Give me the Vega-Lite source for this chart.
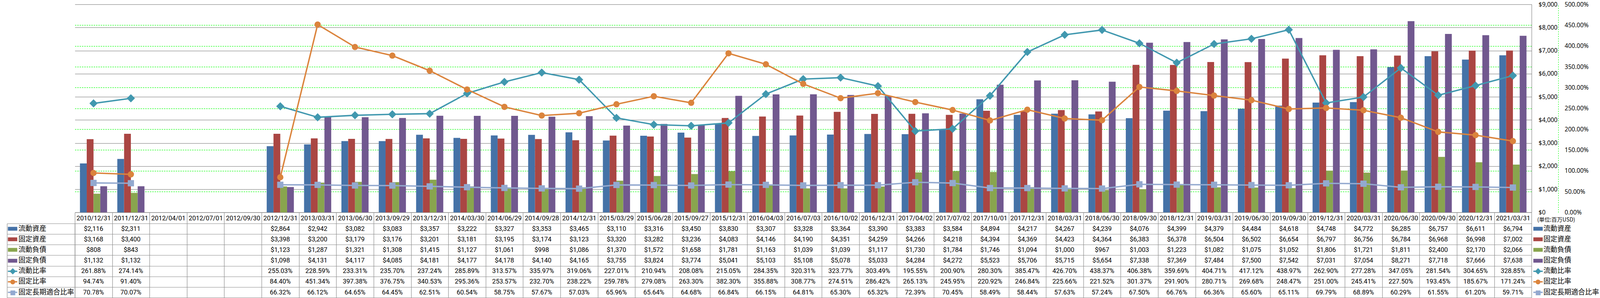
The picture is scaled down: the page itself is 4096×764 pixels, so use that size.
{
"$schema":"https://vega.github.io/schema/vega-lite/v6.json",
"autosize":{"type":"pad"},
"padding":{"left":14.6,"top":4.1,"right":0,"bottom":0},
"background":"white",
"bounds":"flush",
"spacing":27.9,
"config":{"view":{"stroke":null}},
"data":{"values":[
{"d":"2010/12/31","s":"流動資産","v":2116},{"d":"2010/12/31","s":"固定資産","v":3168},{"d":"2010/12/31","s":"流動負債","v":808},{"d":"2010/12/31","s":"固定負債","v":1132},{"d":"2010/12/31","s":"流動比率","v":2.6188},{"d":"2010/12/31","s":"固定比率","v":0.9474},{"d":"2010/12/31","s":"固定長期適合比率","v":0.7078},
{"d":"2011/12/31","s":"流動資産","v":2311},{"d":"2011/12/31","s":"固定資産","v":3400},{"d":"2011/12/31","s":"流動負債","v":843},{"d":"2011/12/31","s":"固定負債","v":1132},{"d":"2011/12/31","s":"流動比率","v":2.7414},{"d":"2011/12/31","s":"固定比率","v":0.914},{"d":"2011/12/31","s":"固定長期適合比率","v":0.7007},
{"d":"2012/04/01","s":"流動比率","v":null},{"d":"2012/04/01","s":"固定比率","v":null},{"d":"2012/04/01","s":"固定長期適合比率","v":null},
{"d":"2012/07/01","s":"流動比率","v":null},{"d":"2012/07/01","s":"固定比率","v":null},{"d":"2012/07/01","s":"固定長期適合比率","v":null},
{"d":"2012/09/30","s":"流動比率","v":null},{"d":"2012/09/30","s":"固定比率","v":null},{"d":"2012/09/30","s":"固定長期適合比率","v":null},
{"d":"2012/12/31","s":"流動資産","v":2864},{"d":"2012/12/31","s":"固定資産","v":3398},{"d":"2012/12/31","s":"流動負債","v":1123},{"d":"2012/12/31","s":"固定負債","v":1098},{"d":"2012/12/31","s":"流動比率","v":2.5503},{"d":"2012/12/31","s":"固定比率","v":0.844},{"d":"2012/12/31","s":"固定長期適合比率","v":0.6632},
{"d":"2013/03/31","s":"流動資産","v":2942},{"d":"2013/03/31","s":"固定資産","v":3200},{"d":"2013/03/31","s":"流動負債","v":1287},{"d":"2013/03/31","s":"固定負債","v":4131},{"d":"2013/03/31","s":"流動比率","v":2.2859},{"d":"2013/03/31","s":"固定比率","v":4.5134},{"d":"2013/03/31","s":"固定長期適合比率","v":0.6612},
{"d":"2013/06/30","s":"流動資産","v":3082},{"d":"2013/06/30","s":"固定資産","v":3179},{"d":"2013/06/30","s":"流動負債","v":1321},{"d":"2013/06/30","s":"固定負債","v":4117},{"d":"2013/06/30","s":"流動比率","v":2.3331},{"d":"2013/06/30","s":"固定比率","v":3.9738},{"d":"2013/06/30","s":"固定長期適合比率","v":0.6465},
{"d":"2013/09/29","s":"流動資産","v":3083},{"d":"2013/09/29","s":"固定資産","v":3176},{"d":"2013/09/29","s":"流動負債","v":1308},{"d":"2013/09/29","s":"固定負債","v":4085},{"d":"2013/09/29","s":"流動比率","v":2.357},{"d":"2013/09/29","s":"固定比率","v":3.7675},{"d":"2013/09/29","s":"固定長期適合比率","v":0.6445},
{"d":"2013/12/31","s":"流動資産","v":3357},{"d":"2013/12/31","s":"固定資産","v":3201},{"d":"2013/12/31","s":"流動負債","v":1415},{"d":"2013/12/31","s":"固定負債","v":4181},{"d":"2013/12/31","s":"流動比率","v":2.3724},{"d":"2013/12/31","s":"固定比率","v":3.4053},{"d":"2013/12/31","s":"固定長期適合比率","v":0.6251},
{"d":"2014/03/30","s":"流動資産","v":3222},{"d":"2014/03/30","s":"固定資産","v":3181},{"d":"2014/03/30","s":"流動負債","v":1127},{"d":"2014/03/30","s":"固定負債","v":4177},{"d":"2014/03/30","s":"流動比率","v":2.8589},{"d":"2014/03/30","s":"固定比率","v":2.9536},{"d":"2014/03/30","s":"固定長期適合比率","v":0.6054},
{"d":"2014/06/29","s":"流動資産","v":3327},{"d":"2014/06/29","s":"固定資産","v":3195},{"d":"2014/06/29","s":"流動負債","v":1061},{"d":"2014/06/29","s":"固定負債","v":4178},{"d":"2014/06/29","s":"流動比率","v":3.1357},{"d":"2014/06/29","s":"固定比率","v":2.5357},{"d":"2014/06/29","s":"固定長期適合比率","v":0.5875},
{"d":"2014/09/28","s":"流動資産","v":3353},{"d":"2014/09/28","s":"固定資産","v":3174},{"d":"2014/09/28","s":"流動負債","v":998},{"d":"2014/09/28","s":"固定負債","v":4140},{"d":"2014/09/28","s":"流動比率","v":3.3597},{"d":"2014/09/28","s":"固定比率","v":2.327},{"d":"2014/09/28","s":"固定長期適合比率","v":0.5767},
{"d":"2014/12/31","s":"流動資産","v":3465},{"d":"2014/12/31","s":"固定資産","v":3123},{"d":"2014/12/31","s":"流動負債","v":1086},{"d":"2014/12/31","s":"固定負債","v":4165},{"d":"2014/12/31","s":"流動比率","v":3.1906},{"d":"2014/12/31","s":"固定比率","v":2.3822},{"d":"2014/12/31","s":"固定長期適合比率","v":0.5703},
{"d":"2015/03/29","s":"流動資産","v":3110},{"d":"2015/03/29","s":"固定資産","v":3320},{"d":"2015/03/29","s":"流動負債","v":1370},{"d":"2015/03/29","s":"固定負債","v":3755},{"d":"2015/03/29","s":"流動比率","v":2.2701},{"d":"2015/03/29","s":"固定比率","v":2.5978},{"d":"2015/03/29","s":"固定長期適合比率","v":0.6596},
{"d":"2015/06/28","s":"流動資産","v":3316},{"d":"2015/06/28","s":"固定資産","v":3282},{"d":"2015/06/28","s":"流動負債","v":1572},{"d":"2015/06/28","s":"固定負債","v":3824},{"d":"2015/06/28","s":"流動比率","v":2.1094},{"d":"2015/06/28","s":"固定比率","v":2.7908},{"d":"2015/06/28","s":"固定長期適合比率","v":0.6564},
{"d":"2015/09/27","s":"流動資産","v":3450},{"d":"2015/09/27","s":"固定資産","v":3236},{"d":"2015/09/27","s":"流動負債","v":1658},{"d":"2015/09/27","s":"固定負債","v":3774},{"d":"2015/09/27","s":"流動比率","v":2.0808},{"d":"2015/09/27","s":"固定比率","v":2.633},{"d":"2015/09/27","s":"固定長期適合比率","v":0.6468},
{"d":"2015/12/31","s":"流動資産","v":3830},{"d":"2015/12/31","s":"固定資産","v":4083},{"d":"2015/12/31","s":"流動負債","v":1781},{"d":"2015/12/31","s":"固定負債","v":5041},{"d":"2015/12/31","s":"流動比率","v":2.1505},{"d":"2015/12/31","s":"固定比率","v":3.823},{"d":"2015/12/31","s":"固定長期適合比率","v":0.6684},
{"d":"2016/04/03","s":"流動資産","v":3307},{"d":"2016/04/03","s":"固定資産","v":4146},{"d":"2016/04/03","s":"流動負債","v":1163},{"d":"2016/04/03","s":"固定負債","v":5103},{"d":"2016/04/03","s":"流動比率","v":2.8435},{"d":"2016/04/03","s":"固定比率","v":3.5588},{"d":"2016/04/03","s":"固定長期適合比率","v":0.6615},
{"d":"2016/07/03","s":"流動資産","v":3328},{"d":"2016/07/03","s":"固定資産","v":4190},{"d":"2016/07/03","s":"流動負債","v":1039},{"d":"2016/07/03","s":"固定負債","v":5108},{"d":"2016/07/03","s":"流動比率","v":3.2031},{"d":"2016/07/03","s":"固定比率","v":3.0877},{"d":"2016/07/03","s":"固定長期適合比率","v":0.6481},
{"d":"2016/10/02","s":"流動資産","v":3364},{"d":"2016/10/02","s":"固定資産","v":4351},{"d":"2016/10/02","s":"流動負債","v":1039},{"d":"2016/10/02","s":"固定負債","v":5078},{"d":"2016/10/02","s":"流動比率","v":3.2377},{"d":"2016/10/02","s":"固定比率","v":2.7451},{"d":"2016/10/02","s":"固定長期適合比率","v":0.653},
{"d":"2016/12/31","s":"流動資産","v":3390},{"d":"2016/12/31","s":"固定資産","v":4259},{"d":"2016/12/31","s":"流動負債","v":1117},{"d":"2016/12/31","s":"固定負債","v":5033},{"d":"2016/12/31","s":"流動比率","v":3.0349},{"d":"2016/12/31","s":"固定比率","v":2.8642},{"d":"2016/12/31","s":"固定長期適合比率","v":0.6532},
{"d":"2017/04/02","s":"流動資産","v":3383},{"d":"2017/04/02","s":"固定資産","v":4266},{"d":"2017/04/02","s":"流動負債","v":1730},{"d":"2017/04/02","s":"固定負債","v":4284},{"d":"2017/04/02","s":"流動比率","v":1.9555},{"d":"2017/04/02","s":"固定比率","v":2.6513},{"d":"2017/04/02","s":"固定長期適合比率","v":0.7239},
{"d":"2017/07/02","s":"流動資産","v":3584},{"d":"2017/07/02","s":"固定資産","v":4218},{"d":"2017/07/02","s":"流動負債","v":1784},{"d":"2017/07/02","s":"固定負債","v":4272},{"d":"2017/07/02","s":"流動比率","v":2.009},{"d":"2017/07/02","s":"固定比率","v":2.4595},{"d":"2017/07/02","s":"固定長期適合比率","v":0.7045},
{"d":"2017/10/01","s":"流動資産","v":4894},{"d":"2017/10/01","s":"固定資産","v":4394},{"d":"2017/10/01","s":"流動負債","v":1746},{"d":"2017/10/01","s":"固定負債","v":5523},{"d":"2017/10/01","s":"流動比率","v":2.803},{"d":"2017/10/01","s":"固定比率","v":2.2092},{"d":"2017/10/01","s":"固定長期適合比率","v":0.5849},
{"d":"2017/12/31","s":"流動資産","v":4217},{"d":"2017/12/31","s":"固定資産","v":4369},{"d":"2017/12/31","s":"流動負債","v":1094},{"d":"2017/12/31","s":"固定負債","v":5706},{"d":"2017/12/31","s":"流動比率","v":3.8547},{"d":"2017/12/31","s":"固定比率","v":2.4684},{"d":"2017/12/31","s":"固定長期適合比率","v":0.5844},
{"d":"2018/03/31","s":"流動資産","v":4267},{"d":"2018/03/31","s":"固定資産","v":4423},{"d":"2018/03/31","s":"流動負債","v":1000},{"d":"2018/03/31","s":"固定負債","v":5715},{"d":"2018/03/31","s":"流動比率","v":4.267},{"d":"2018/03/31","s":"固定比率","v":2.2566},{"d":"2018/03/31","s":"固定長期適合比率","v":0.5763},
{"d":"2018/06/30","s":"流動資産","v":4239},{"d":"2018/06/30","s":"固定資産","v":4364},{"d":"2018/06/30","s":"流動負債","v":967},{"d":"2018/06/30","s":"固定負債","v":5654},{"d":"2018/06/30","s":"流動比率","v":4.3837},{"d":"2018/06/30","s":"固定比率","v":2.2152},{"d":"2018/06/30","s":"固定長期適合比率","v":0.5724},
{"d":"2018/09/30","s":"流動資産","v":4076},{"d":"2018/09/30","s":"固定資産","v":6383},{"d":"2018/09/30","s":"流動負債","v":1003},{"d":"2018/09/30","s":"固定負債","v":7338},{"d":"2018/09/30","s":"流動比率","v":4.0638},{"d":"2018/09/30","s":"固定比率","v":3.0137},{"d":"2018/09/30","s":"固定長期適合比率","v":0.675},
{"d":"2018/12/31","s":"流動資産","v":4399},{"d":"2018/12/31","s":"固定資産","v":6378},{"d":"2018/12/31","s":"流動負債","v":1223},{"d":"2018/12/31","s":"固定負債","v":7369},{"d":"2018/12/31","s":"流動比率","v":3.5969},{"d":"2018/12/31","s":"固定比率","v":2.919},{"d":"2018/12/31","s":"固定長期適合比率","v":0.6676},
{"d":"2019/03/31","s":"流動資産","v":4379},{"d":"2019/03/31","s":"固定資産","v":6504},{"d":"2019/03/31","s":"流動負債","v":1082},{"d":"2019/03/31","s":"固定負債","v":7484},{"d":"2019/03/31","s":"流動比率","v":4.0471},{"d":"2019/03/31","s":"固定比率","v":2.8071},{"d":"2019/03/31","s":"固定長期適合比率","v":0.6636},
{"d":"2019/06/30","s":"流動資産","v":4484},{"d":"2019/06/30","s":"固定資産","v":6502},{"d":"2019/06/30","s":"流動負債","v":1075},{"d":"2019/06/30","s":"固定負債","v":7500},{"d":"2019/06/30","s":"流動比率","v":4.1712},{"d":"2019/06/30","s":"固定比率","v":2.6968},{"d":"2019/06/30","s":"固定長期適合比率","v":0.656},
{"d":"2019/09/30","s":"流動資産","v":4618},{"d":"2019/09/30","s":"固定資産","v":6654},{"d":"2019/09/30","s":"流動負債","v":1052},{"d":"2019/09/30","s":"固定負債","v":7542},{"d":"2019/09/30","s":"流動比率","v":4.3897},{"d":"2019/09/30","s":"固定比率","v":2.4847},{"d":"2019/09/30","s":"固定長期適合比率","v":0.6511},
{"d":"2019/12/31","s":"流動資産","v":4748},{"d":"2019/12/31","s":"固定資産","v":6797},{"d":"2019/12/31","s":"流動負債","v":1806},{"d":"2019/12/31","s":"固定負債","v":7031},{"d":"2019/12/31","s":"流動比率","v":2.629},{"d":"2019/12/31","s":"固定比率","v":2.51},{"d":"2019/12/31","s":"固定長期適合比率","v":0.6979},
{"d":"2020/03/31","s":"流動資産","v":4772},{"d":"2020/03/31","s":"固定資産","v":6756},{"d":"2020/03/31","s":"流動負債","v":1721},{"d":"2020/03/31","s":"固定負債","v":7054},{"d":"2020/03/31","s":"流動比率","v":2.7728},{"d":"2020/03/31","s":"固定比率","v":2.4541},{"d":"2020/03/31","s":"固定長期適合比率","v":0.6889},
{"d":"2020/06/30","s":"流動資産","v":6285},{"d":"2020/06/30","s":"固定資産","v":6784},{"d":"2020/06/30","s":"流動負債","v":1811},{"d":"2020/06/30","s":"固定負債","v":8271},{"d":"2020/06/30","s":"流動比率","v":3.4705},{"d":"2020/06/30","s":"固定比率","v":2.275},{"d":"2020/06/30","s":"固定長期適合比率","v":0.6029},
{"d":"2020/09/30","s":"流動資産","v":6757},{"d":"2020/09/30","s":"固定資産","v":6968},{"d":"2020/09/30","s":"流動負債","v":2400},{"d":"2020/09/30","s":"固定負債","v":7718},{"d":"2020/09/30","s":"流動比率","v":2.8154},{"d":"2020/09/30","s":"固定比率","v":1.9345},{"d":"2020/09/30","s":"固定長期適合比率","v":0.6155},
{"d":"2020/12/31","s":"流動資産","v":6611},{"d":"2020/12/31","s":"固定資産","v":6998},{"d":"2020/12/31","s":"流動負債","v":2170},{"d":"2020/12/31","s":"固定負債","v":7666},{"d":"2020/12/31","s":"流動比率","v":3.0465},{"d":"2020/12/31","s":"固定比率","v":1.8567},{"d":"2020/12/31","s":"固定長期適合比率","v":0.612},
{"d":"2021/03/31","s":"流動資産","v":6794},{"d":"2021/03/31","s":"固定資産","v":7002},{"d":"2021/03/31","s":"流動負債","v":2066},{"d":"2021/03/31","s":"固定負債","v":7638},{"d":"2021/03/31","s":"流動比率","v":3.2885},{"d":"2021/03/31","s":"固定比率","v":1.7124},{"d":"2021/03/31","s":"固定長期適合比率","v":0.5971}
]},
"vconcat":[
{
"width":3729.3,"height":533.4,
"layer":[
{
"transform":[{"filter":{"field":"s","oneOf":["流動資産","固定資産","流動負債","固定負債"]}}],
"mark":{"type":"bar"},
"encoding":{
"x":{"field":"d","type":"nominal","scale":{"domain":["2010/12/31","2011/12/31","2012/04/01","2012/07/01","2012/09/30","2012/12/31","2013/03/31","2013/06/30","2013/09/29","2013/12/31","2014/03/30","2014/06/29","2014/09/28","2014/12/31","2015/03/29","2015/06/28","2015/09/27","2015/12/31","2016/04/03","2016/07/03","2016/10/02","2016/12/31","2017/04/02","2017/07/02","2017/10/01","2017/12/31","2018/03/31","2018/06/30","2018/09/30","2018/12/31","2019/03/31","2019/06/30","2019/09/30","2019/12/31","2020/03/31","2020/06/30","2020/09/30","2020/12/31","2021/03/31"],"paddingInner":0.273,"paddingOuter":0.1365},"axis":{"title":null,"labels":false,"ticks":false,"grid":false,"domain":true,"domainColor":"#8C8C8C","domainWidth":1.2}},
"xOffset":{"field":"s","type":"nominal","scale":{"domain":["流動資産","固定資産","流動負債","固定負債"],"paddingInner":0,"paddingOuter":0}},
"y":{"field":"v","type":"quantitative","scale":{"domain":[0,9000],"nice":false,"zero":true},"axis":{"orient":"right","title":null,"values":[0,1000,2000,3000,4000,5000,6000,7000,8000,9000],"format":"$,.0f","labelFont":"Noto Sans","labelFontSize":15.5,"labelColor":"#000","labelAlign":"left","labelBaseline":"middle","labelPadding":17.4,"labelFlush":false,"labelOverlap":false,"labelBound":false,"ticks":false,"tickSize":0,"domain":true,"domainColor":"#8C8C8C","domainWidth":1.2,"grid":true,"gridColor":"#8C8C8C","gridWidth":1.2}},
"color":{"field":"s","type":"nominal","scale":{"domain":["流動資産","固定資産","流動負債","固定負債","流動比率","固定比率","固定長期適合比率"],"range":["#4572A7","#AA4643","#89A54E","#71588F","#4198AF","#DB843D","#93A9CF"]},"legend":null}
}
},
{
"encoding":{
"x":{"field":"d","type":"nominal","scale":{"domain":["2010/12/31","2011/12/31","2012/04/01","2012/07/01","2012/09/30","2012/12/31","2013/03/31","2013/06/30","2013/09/29","2013/12/31","2014/03/30","2014/06/29","2014/09/28","2014/12/31","2015/03/29","2015/06/28","2015/09/27","2015/12/31","2016/04/03","2016/07/03","2016/10/02","2016/12/31","2017/04/02","2017/07/02","2017/10/01","2017/12/31","2018/03/31","2018/06/30","2018/09/30","2018/12/31","2019/03/31","2019/06/30","2019/09/30","2019/12/31","2020/03/31","2020/06/30","2020/09/30","2020/12/31","2021/03/31"],"paddingInner":0.273,"paddingOuter":0.1365},"axis":{"title":null,"labels":false,"ticks":false,"grid":false,"domain":true,"domainColor":"#8C8C8C","domainWidth":1.2}},
"y":{"field":"v","type":"quantitative","scale":{"domain":[0,5],"nice":false,"zero":true},"axis":{"orient":"right","offset":68.2,"title":null,"values":[0,0.5,1,1.5,2,2.5,3,3.5,4,4.5,5],"format":".2%","labelFont":"Noto Sans","labelFontSize":15.5,"labelColor":"#000","labelAlign":"left","labelBaseline":"middle","labelPadding":16,"labelFlush":false,"labelOverlap":false,"labelBound":false,"ticks":false,"tickSize":0,"domain":true,"domainColor":"#00FF00","domainDash":[3,3],"domainWidth":1.1,"grid":true,"gridColor":"#00FF00","gridDash":[3.5,2.5],"gridWidth":1.1,"gridOpacity":{"condition":{"test":"datum.value == 0 || datum.value == 5","value":0},"value":1}}},
"color":{"field":"s","type":"nominal","scale":{"domain":["流動資産","固定資産","流動負債","固定負債","流動比率","固定比率","固定長期適合比率"],"range":["#4572A7","#AA4643","#89A54E","#71588F","#4198AF","#DB843D","#93A9CF"]},"legend":null}
},
"layer":[
{"transform":[{"filter":{"field":"s","oneOf":["流動比率","固定比率","固定長期適合比率"]}}],"mark":{"type":"line","strokeWidth":3.6,"strokeJoin":"round","strokeCap":"round"}},
{"transform":[{"filter":{"field":"s","equal":"流動比率"}}],"mark":{"type":"point","filled":true,"shape":"diamond","size":441,"opacity":1}},
{"transform":[{"filter":{"field":"s","oneOf":["固定比率","固定長期適合比率"]}}],"mark":{"type":"point","filled":true,"size":256,"opacity":1},"encoding":{"shape":{"field":"s","type":"nominal","scale":{"domain":["固定比率","固定長期適合比率"],"range":["circle","square"]},"legend":null}}}
]
}
],
"resolve":{"scale":{"y":"independent"}}
},
{
"width":3729.3,"height":190.1,
"encoding":{
"x":{"field":"d","type":"nominal","scale":{"domain":["2010/12/31","2011/12/31","2012/04/01","2012/07/01","2012/09/30","2012/12/31","2013/03/31","2013/06/30","2013/09/29","2013/12/31","2014/03/30","2014/06/29","2014/09/28","2014/12/31","2015/03/29","2015/06/28","2015/09/27","2015/12/31","2016/04/03","2016/07/03","2016/10/02","2016/12/31","2017/04/02","2017/07/02","2017/10/01","2017/12/31","2018/03/31","2018/06/30","2018/09/30","2018/12/31","2019/03/31","2019/06/30","2019/09/30","2019/12/31","2020/03/31","2020/06/30","2020/09/30","2020/12/31","2021/03/31"],"paddingInner":0,"paddingOuter":0},"axis":{"orient":"top","title":null,"labelAngle":0,"labelFont":"Roboto","labelFontSize":16.5,"labelColor":"#000","labelAlign":"center","labelBaseline":"middle","labelPadding":-13.95,"labelOverlap":false,"labelBound":false,"labelFlush":false,"labelLimit":0,"ticks":true,"tickBand":"extent","tickSize":27.9,"tickColor":"#8C8C8C","tickWidth":1.2,"grid":true,"gridColor":"#8C8C8C","gridWidth":1.2,"domain":true,"domainColor":"#8C8C8C","domainWidth":1.2}}
},
"layer":[
{
"transform":[{"filter":{"field":"s","oneOf":["流動資産","固定資産"]}},{"filter":"isValid(datum.v)"}],
"mark":{"type":"text","font":"Roboto","fontSize":16.5,"color":"#000","align":"center","baseline":"middle"},
"encoding":{
"y":{"field":"s","type":"nominal","scale":{"domain":["流動資産","固定資産","流動負債","固定負債","流動比率","固定比率","固定長期適合比率"],"paddingInner":0,"paddingOuter":0},"axis":{"orient":"left","offset":0,"title":null,"labels":false,"domain":true,"domainColor":"#8C8C8C","domainWidth":1.2,"ticks":true,"tickBand":"extent","tickSize":173.7,"tickColor":"#8C8C8C","tickWidth":1.2,"grid":true,"gridColor":"#8C8C8C","gridWidth":1.2}},
"text":{"field":"v","type":"quantitative","format":"$,.0f"}
}
},
{
"transform":[{"filter":{"field":"s","oneOf":["流動負債","固定負債"]}},{"filter":"isValid(datum.v)"}],
"mark":{"type":"text","font":"Roboto","fontSize":16.5,"color":"#000","align":"center","baseline":"middle"},
"encoding":{
"y":{"field":"s","type":"nominal","scale":{"domain":["流動資産","固定資産","流動負債","固定負債","流動比率","固定比率","固定長期適合比率"],"paddingInner":0,"paddingOuter":0},"axis":{"orient":"left","offset":147.9,"title":null,"domain":false,"grid":false,"ticks":true,"tickSize":24,"tickColor":{"expr":"datum.value=='流動資産'?'#4572A7':datum.value=='固定資産'?'#AA4643':datum.value=='流動負債'?'#89A54E':datum.value=='固定負債'?'#71588F':datum.value=='流動比率'?'#4198AF':datum.value=='固定比率'?'#DB843D':'#93A9CF'"},"tickWidth":{"expr":"indexof(['流動比率','固定比率','固定長期適合比率'], datum.value) >= 0 ? 3.4 : 9.8"},"labels":true,"labelAlign":"left","labelBaseline":"middle","labelPadding":-27.1,"labelFont":"Noto Sans CJK JP","labelFontSize":17.8,"labelColor":"#000","labelLimit":0}},
"text":{"field":"v","type":"quantitative","format":"$,.0f"}
}
},
{
"transform":[{"filter":{"field":"s","equal":"流動比率"}},{"filter":"isValid(datum.v)"}],
"mark":{"type":"text","font":"Roboto","fontSize":16.5,"color":"#000","align":"center","baseline":"middle"},
"encoding":{
"y":{"field":"s","type":"nominal","scale":{"domain":["流動資産","固定資産","流動負債","固定負債","流動比率","固定比率","固定長期適合比率"],"paddingInner":0,"paddingOuter":0},"axis":{"orient":"left","offset":173.7,"title":null,"domain":true,"domainColor":"#8C8C8C","domainWidth":1.2,"grid":false,"ticks":false,"tickSize":0,"labels":true,"labelExpr":"datum.value=='流動比率'?'◆':datum.value=='固定比率'?'●':datum.value=='固定長期適合比率'?'■':''","labelAlign":"center","labelBaseline":"middle","labelPadding":-14.2,"labelFont":"DejaVu Sans","labelFontSize":{"expr":"datum.value=='流動比率'?21:16"},"labelColor":{"expr":"datum.value=='流動比率'?'#4198AF':datum.value=='固定比率'?'#DB843D':'#93A9CF'"},"labelLimit":0}},
"text":{"field":"v","type":"quantitative","format":".2%"}
}
},
{
"transform":[{"filter":{"field":"s","equal":"固定比率"}},{"filter":"isValid(datum.v)"}],
"mark":{"type":"text","font":"Roboto","fontSize":16.5,"color":"#000","align":"center","baseline":"middle"},
"encoding":{
"y":{"field":"s","type":"nominal","scale":{"domain":["流動資産","固定資産","流動負債","固定負債","流動比率","固定比率","固定長期適合比率"],"paddingInner":0,"paddingOuter":0},"axis":{"orient":"right","offset":4,"title":"(単位:百万USD)","titleAngle":0,"titleAlign":"left","titleBaseline":"middle","titleX":9.8,"titleY":-9.2,"titleFont":"Noto Sans CJK JP","titleFontSize":14,"titleFontWeight":"normal","titleColor":"#000","domain":false,"grid":false,"ticks":true,"tickSize":24,"tickColor":{"expr":"datum.value=='流動資産'?'#4572A7':datum.value=='固定資産'?'#AA4643':datum.value=='流動負債'?'#89A54E':datum.value=='固定負債'?'#71588F':datum.value=='流動比率'?'#4198AF':datum.value=='固定比率'?'#DB843D':'#93A9CF'"},"tickWidth":{"expr":"indexof(['流動比率','固定比率','固定長期適合比率'], datum.value) >= 0 ? 3.4 : 9.8"},"labels":true,"labelAlign":"left","labelBaseline":"middle","labelPadding":1.8,"labelFont":"Noto Sans CJK JP","labelFontSize":17.8,"labelColor":"#000","labelLimit":0}},
"text":{"field":"v","type":"quantitative","format":".2%"}
}
},
{
"transform":[{"filter":{"field":"s","equal":"固定長期適合比率"}},{"filter":"isValid(datum.v)"}],
"mark":{"type":"text","font":"Roboto","fontSize":16.5,"color":"#000","align":"center","baseline":"middle"},
"encoding":{
"y":{"field":"s","type":"nominal","scale":{"domain":["流動資産","固定資産","流動負債","固定負債","流動比率","固定比率","固定長期適合比率"],"paddingInner":0,"paddingOuter":0},"axis":{"orient":"right","offset":0,"title":null,"domain":false,"grid":false,"ticks":false,"tickSize":0,"labels":true,"labelExpr":"datum.value=='流動比率'?'◆':datum.value=='固定比率'?'●':datum.value=='固定長期適合比率'?'■':''","labelAlign":"center","labelBaseline":"middle","labelPadding":16,"labelFont":"DejaVu Sans","labelFontSize":{"expr":"datum.value=='流動比率'?21:16"},"labelColor":{"expr":"datum.value=='流動比率'?'#4198AF':datum.value=='固定比率'?'#DB843D':'#93A9CF'"},"labelLimit":0}},
"text":{"field":"v","type":"quantitative","format":".2%"}
}
}
],
"resolve":{"axis":{"y":"independent"}}
}
]
}
